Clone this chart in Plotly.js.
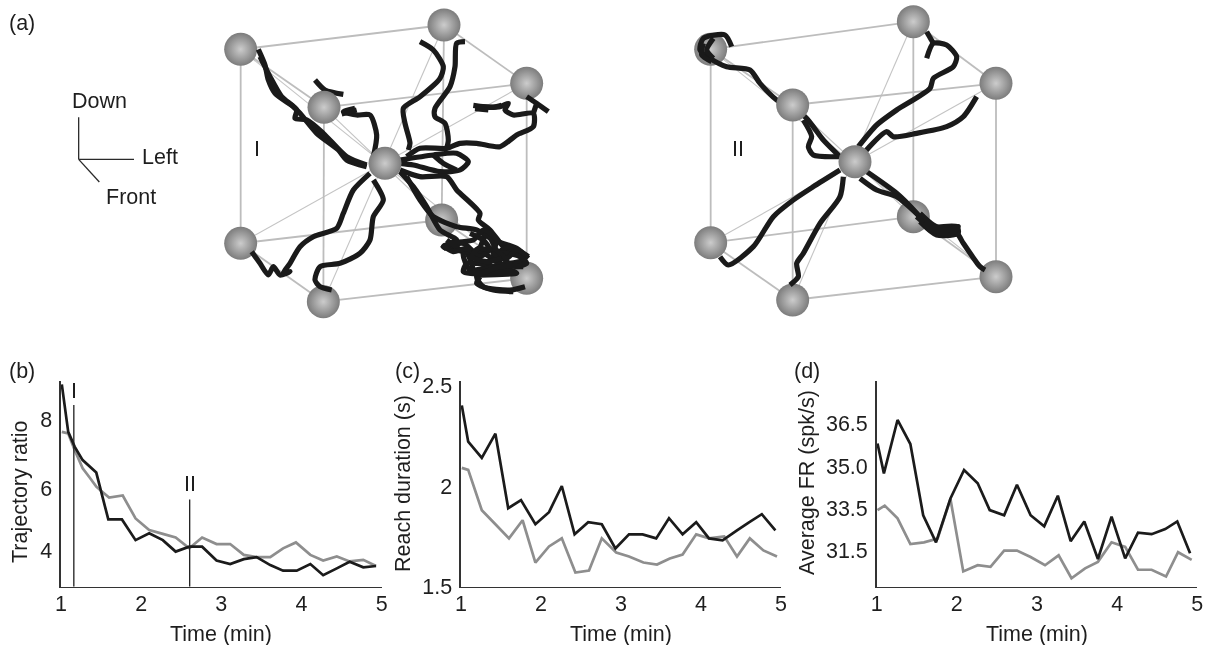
<!DOCTYPE html>
<html><head><meta charset="utf-8">
<script src="https://cdn.plot.ly/plotly-3.0.1.min.js"></script>
<style>html,body{margin:0;padding:0;background:#fff;overflow:hidden}#plot{width:1214px;height:645px;filter:blur(0.35px)}</style>
</head><body><div id="plot"></div>
<script>
// ---------- panel (b) ----------
const bGrayT=[1.01,1.09,1.17,1.27,1.35,1.44,1.51,1.60,1.77,1.93,2.10,2.27,2.43,2.60,2.76,2.94,3.11,3.28,3.44,3.61,3.77,3.93,4.11,4.27,4.44,4.60,4.77,4.93];
const bGrayY=[7.62,7.57,7.07,6.51,6.25,5.95,5.80,5.62,5.68,4.98,4.63,4.51,4.40,4.07,4.40,4.20,4.20,3.87,3.80,3.80,4.07,4.25,3.87,3.70,3.82,3.67,3.72,3.53];
const bBlackT=[1.01,1.09,1.17,1.27,1.44,1.59,1.76,1.93,2.10,2.27,2.43,2.60,2.76,2.94,3.11,3.28,3.44,3.61,3.77,3.94,4.11,4.27,4.44,4.60,4.77,4.93];
const bBlackY=[9.07,7.62,7.17,6.76,6.38,4.95,4.95,4.32,4.53,4.32,3.97,4.12,4.12,3.70,3.59,3.74,3.80,3.56,3.39,3.39,3.59,3.25,3.46,3.66,3.49,3.53];
const markI={t:1.16,top:8.44}, markII={t:2.605,top:5.56};
// ---------- panel (c) ----------
const cBlackT=[1.01,1.09,1.26,1.43,1.59,1.75,1.93,2.10,2.26,2.42,2.59,2.76,2.93,3.10,3.27,3.44,3.60,3.77,3.94,4.10,4.27,4.45,4.60,4.76,4.93];
const cBlackY=[2.40,2.22,2.14,2.26,1.89,1.93,1.81,1.87,2.00,1.76,1.82,1.81,1.69,1.76,1.76,1.74,1.84,1.76,1.82,1.74,1.73,1.78,1.82,1.86,1.78];
const cGrayT=[1.01,1.09,1.26,1.43,1.60,1.77,1.93,2.10,2.26,2.43,2.60,2.76,2.94,3.10,3.28,3.45,3.61,3.77,3.94,4.10,4.29,4.45,4.61,4.78,4.95];
const cGrayY=[2.09,2.08,1.88,1.81,1.74,1.83,1.62,1.70,1.74,1.57,1.58,1.74,1.67,1.65,1.62,1.61,1.64,1.66,1.76,1.74,1.75,1.65,1.74,1.68,1.65];
// ---------- panel (d) ----------
const dBlackT=[1.01,1.09,1.26,1.42,1.58,1.74,1.92,2.09,2.26,2.41,2.59,2.75,2.92,3.09,3.26,3.42,3.59,3.76,3.93,4.10,4.26,4.43,4.60,4.75,4.91];
const dBlackY=[35.80,34.74,36.63,35.78,33.26,32.30,33.85,34.86,34.39,33.44,33.26,34.34,33.26,32.87,33.95,32.34,33.04,31.71,33.21,31.73,32.64,32.59,32.77,33.04,31.91];
const dGrayT=[1.01,1.10,1.26,1.42,1.59,1.76,1.92,2.08,2.26,2.42,2.59,2.75,2.92,3.10,3.27,3.43,3.60,3.76,3.93,4.10,4.26,4.43,4.61,4.76,4.93];
const dGrayY=[33.44,33.60,33.15,32.24,32.30,32.43,33.83,31.27,31.49,31.43,32.01,32.01,31.78,31.49,31.84,31.03,31.38,31.61,32.30,32.14,31.33,31.33,31.09,31.95,31.68];
// ---------- tick labels ----------
const timeTicks=[1,2,3,4,5];
const bTickVals=[4,5.9,8], bTickText=['4','6','8'];
const cTickVals=[1.5,2,2.5], cTickText=['1.5','2','2.5'];
const dTickVals=[32.02,33.5,35,36.5], dTickText=['31.5','33.5','35.0','36.5'];
// ---------- cube I (picture units) ----------
const cube1Corners={A:[122,148],B:[732,75],C:[980,250],D:[372,322],E:[122,730],F:[725,660],G:[980,835],H:[370,905]};
const cube1Center=[555,490];
const cube1Paths=[
 [[500,500],[440,480],[415,450],[350,400],[300,340],[280,320],[225,280],[205,240],[195,195],[175,148]],
 [[500,495],[440,470],[370,400],[320,360],[285,355],[290,330],[245,290],[210,230],[180,170]],
 [[520,470],[530,405],[510,345],[470,345],[430,335],[465,325]],[[425,342],[470,330]],
 [[345,240],[375,270],[430,283]],[[375,270],[368,290]],
 [[625,450],[630,430],[615,370],[610,325],[660,290],[720,235],[730,200],[700,150],[660,125]],
 [[740,445],[745,420],[735,370],[705,350],[705,325],[750,260],[765,200],[770,130],[795,125]],
 [[620,470],[660,445],[740,445],[780,430],[830,430],[900,440],[950,405],[1000,380],[1000,340],[940,345],[915,330],[925,310],[900,320],[830,320]],
 [[820,316],[880,322],[905,316]],[[825,326],[865,330]],
 [[980,290],[1010,310],[1045,335]],[[1010,310],[1000,340]],
 [[600,480],[700,465],[770,460],[805,485],[780,510],[720,515],[640,495],[600,490]],
 [[700,465],[730,490],[770,510]],
 [[600,510],[660,530],[740,530],[770,570],[840,640],[835,660],[870,690],[920,750],[980,770]],
 [[600,515],[640,560],[680,620],[720,690],[770,720],[730,740],[800,760],[820,810]],
 [[620,530],[660,600],[700,650],[770,680],[830,690],[880,720],[950,745],[985,775]],
 [[730,745],[790,730],[830,760],[860,700],[900,790],[850,760],[790,760],[810,810],[870,800],[930,790],[970,780],[930,740],[880,770],[860,810],[930,810],[950,820],[830,830],[850,860],[930,870],[975,860]],
 [[740,720],[780,750],[760,730],[820,720],[850,690],[890,720],[880,760],[920,760],[960,770],[980,790],[940,800],[900,770],[860,790],[830,790],[800,790],[790,815],[840,820],[900,800],[970,800]],
 [[725,735],[760,755],[800,745],[840,770],[880,745],[920,775],[950,750],[985,770]],
 [[840,830],[830,850],[880,870],[940,875]],
 [[810,700],[850,720],[870,750],[835,745],[815,770],[860,785],[905,775]],
 [[510,520],[460,570],[430,640],[410,685],[340,710],[300,740],[270,790],[250,820],[270,815],[240,825],[220,800],[205,825],[180,790],[155,755]],
 [[520,540],[550,600],[520,650],[510,720],[480,760],[420,790],[360,800],[345,840],[360,860],[395,870]]
];
// ---------- cube II (picture units) ----------
const cube2Corners={A:[122,148],B:[730,65],C:[978,250],D:[368,315],E:[122,728],F:[730,650],G:[978,830],H:[368,900]};
const cube2Center=[555,485];
const cube2Paths=[
 [[510,470],[460,420],[405,350],[320,300],[270,250],[240,210],[170,200],[120,175],[90,150],[100,115],[165,105],[185,140]],
 [[130,115],[110,150],[130,175]],[[100,130],[95,165],[125,185]],
 [[510,470],[430,465],[415,440],[425,410],[400,360]],
 [[565,440],[620,375],[680,330],[780,265],[790,235],[850,200],[860,170],[830,135],[790,130],[770,175]],
 [[790,130],[770,95]],
 [[585,455],[650,395],[670,410],[740,400],[830,380],[880,350],[920,290]],
 [[590,515],[680,580],[740,640],[780,690],[860,700],[880,730],[930,800],[945,810]],
 [[570,535],[620,570],[680,590],[750,650]],
 [[740,650],[780,680],[860,680],[865,700],[800,705],[750,665]],
 [[750,640],[790,675],[830,690],[865,680],[840,705],[790,690],[760,670]],
 [[510,510],[430,560],[370,600],[310,650],[250,740],[175,795],[150,770]],
 [[520,530],[510,590],[450,670],[400,760],[380,790],[385,830],[360,855]]
];
const cubeEdges=['AB','BC','CD','DA','EF','FG','GH','HE','AE','BF','CG','DH'];
const cubeDiagonals=['AG','BH','CE','DF'];
// ---------- direction glyph (picture units) ----------
const glyphDown={x:[236,236],y:[352,478]}, glyphLeft={x:[236,402],y:[478,478]}, glyphFront={x:[236,298],y:[478,546]};

// ---------- styles ----------
const W=1214,H=645,FONT='"Liberation Sans", Arial, sans-serif',FS=21.5,INK='#1e1e1e';
const BLACK='#1b1b1b',GRAY='#8e8e8e';
const dx=(a,b)=>[a/W,b/W], dy=(top,bot)=>[1-bot/H,1-top/H];
const traces=[];
function line(x,y,color,width,xa,ya,smooth){traces.push({type:'scatter',mode:'lines',x,y,xaxis:xa,yaxis:ya,hoverinfo:'skip',showlegend:false,cliponaxis:false,
  line:Object.assign({color,width,simplify:false},smooth?{shape:'spline',smoothing:0.7}:{})});}
function spheres(pts,xa,ya,size){traces.push({type:'scatter',mode:'markers',x:pts.map(p=>p[0]),y:pts.map(p=>p[1]),xaxis:xa,yaxis:ya,hoverinfo:'skip',showlegend:false,cliponaxis:false,
  marker:{size,color:'#7c7c7c',gradient:{type:'radial',color:'#cccccc'},line:{width:0}}});}
function cube(corners,center,paths,xa,ya){
  cubeDiagonals.forEach(d=>{const p=corners[d[0]],q=corners[d[1]];line([p[0],q[0]],[p[1],q[1]],'#c4c4c4',1.1,xa,ya);});
  cubeEdges.forEach(d=>{const p=corners[d[0]],q=corners[d[1]];line([p[0],q[0]],[p[1],q[1]],'#bdbdbd',1.8,xa,ya);});
  spheres(['A','B','C','E','F','G','H'].map(k=>corners[k]),xa,ya,33);
  paths.forEach(p=>line(p.map(v=>v[0]),p.map(v=>v[1]),'#1a1a1a',5.2,xa,ya,true));
  spheres([corners.D,center],xa,ya,33);
}
// line panels
line(bGrayT,bGrayY,GRAY,2.7,'x','y');line(bBlackT,bBlackY,BLACK,2.7,'x','y');
line([markI.t,markI.t],[2.9,markI.top],INK,1.3,'x','y');
line([markII.t,markII.t],[2.9,markII.top],INK,1.3,'x','y');
line(cGrayT,cGrayY,GRAY,2.7,'x2','y2');line(cBlackT,cBlackY,BLACK,2.7,'x2','y2');
line(dGrayT,dGrayY,GRAY,2.7,'x3','y3');line(dBlackT,dBlackY,BLACK,2.7,'x3','y3');
// cubes & glyph
cube(cube1Corners,cube1Center,cube1Paths,'x4','y4');
cube(cube2Corners,cube2Center,cube2Paths,'x5','y5');
[glyphDown,glyphLeft,glyphFront].forEach(g=>line(g.x,g.y,'#2a2a2a',1.3,'x6','y6'));

function xAxis(px0,px1,anchor){return {domain:dx(px0,px1),range:[1,5],anchor,tickmode:'array',tickvals:timeTicks,ticktext:timeTicks.map(String),
  showline:true,linecolor:'#333',linewidth:1.6,showgrid:false,zeroline:false,ticks:'',ticklabelstandoff:-3,tickfont:{family:FONT,size:FS,color:INK}};}
function yAxis(range,vals,text,anchor){return {domain:dy(380.7,586.7),range,anchor,tickmode:'array',tickvals:vals,ticktext:text,
  showline:true,linecolor:'#333',linewidth:1.6,showgrid:false,zeroline:false,ticks:'outside',ticklen:3,tickcolor:'rgba(0,0,0,0)',tickfont:{family:FONT,size:FS,color:INK}};}
function hidden(extra){return Object.assign({visible:false,fixedrange:true},extra);}
function txt(text,px,py,rot){return {text,x:px/W,y:1-py/H,xref:'paper',yref:'paper',showarrow:false,xanchor:'center',yanchor:'middle',textangle:rot||0,font:{family:FONT,size:FS,color:INK}};}

const layout={width:W,height:H,margin:{l:0,r:0,t:0,b:0},paper_bgcolor:'#fff',plot_bgcolor:'rgba(0,0,0,0)',showlegend:false,
 xaxis:xAxis(61,381.7,'y'),yaxis:yAxis([2.90,9.18],bTickVals,bTickText,'x'),
 xaxis2:xAxis(461,781,'y2'),yaxis2:yAxis([1.5,2.523],cTickVals,cTickText,'x2'),
 xaxis3:xAxis(876.7,1197.3,'y3'),yaxis3:yAxis([30.73,38.02],dTickVals,dTickText,'x3'),
 xaxis4:hidden({domain:dx(200,570),range:[0,1110],anchor:'y4'}),yaxis4:hidden({domain:dy(0,330),range:[990,0],anchor:'x4'}),
 xaxis5:hidden({domain:dx(670,1040),range:[0,1110],anchor:'y5'}),yaxis5:hidden({domain:dy(0,330),range:[990,0],anchor:'x5'}),
 xaxis6:hidden({domain:dx(0,200),range:[0,600],anchor:'y6'}),yaxis6:hidden({domain:dy(0,220),range:[660,0],anchor:'x6'}),
 annotations:[
  txt('(a)',22,23),txt('(b)',22,371),txt('(c)',407,371),txt('(d)',807,371),
  txt('Down',100,101),txt('Left',160,157),txt('Front',131,197),
  txt('I',256.7,149),txt('II',738,149),txt('I',73.5,391),txt('II',189.5,484),
  txt('Time (min)',221,634),txt('Time (min)',620.5,634),txt('Time (min)',1036.5,634),
  txt('Trajectory ratio',20,492,-90),txt('Reach duration (s)',403,484,-90),txt('Average FR (spk/s)',807,483,-90)
 ]};
Plotly.newPlot('plot',traces,layout,{staticPlot:true,displayModeBar:false});
</script></body></html>
